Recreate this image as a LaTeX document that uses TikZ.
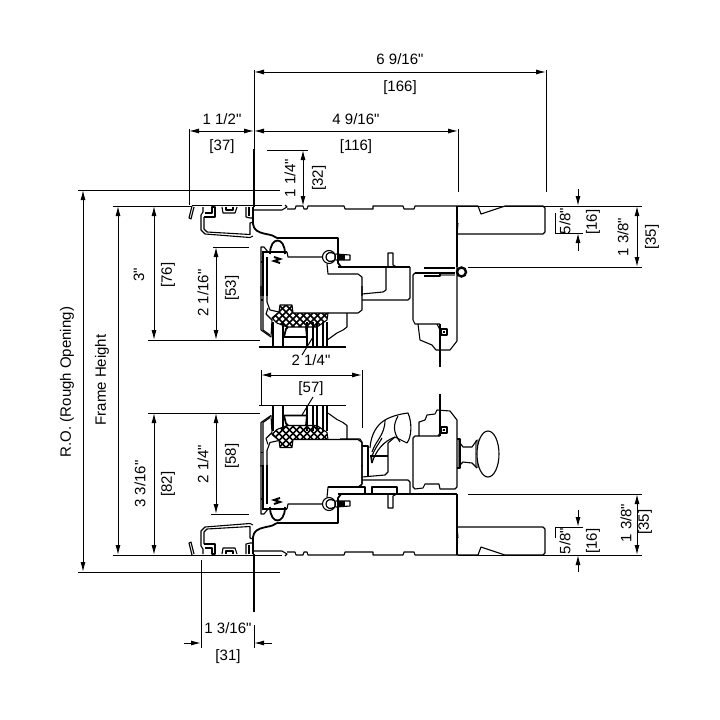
\documentclass[tikz,border=0pt]{standalone}
\usepackage{fontspec}
\newfontfamily\dimfont{Liberation Sans}
\usetikzlibrary{arrows.meta}
\definecolor{bandgray}{RGB}{120, 120, 120}
\tikzset{
  prof/.style={line width=1.1pt, line join=round},
  heavy/.style={line width=1.8pt, line join=round},
  dimline/.style={line width=1pt, {Latex[length=10pt,width=5pt]}-{Latex[length=10pt,width=5pt]}},
  dimhalf/.style={line width=1pt, -{Latex[length=10pt,width=5pt]}},
  extline/.style={line width=1pt},
  dimtext/.style={font=\dimfont\fontsize{15}{17}\selectfont, inner sep=0pt},
  vtext/.style={dimtext, rotate=90}
}
% frame, stop and lower door rail: drawn once, then mirrored for the sill
\newcommand{\framesection}{
  % plate and aluminium profile
  \draw[line width=2pt] (254,149) -- (254,207);
  \draw[heavy] (192,205.5) -- (282,205.5);
  \draw[prof] (192,206) -- (189,218) -- (191,219) -- (194,207);
  \draw[prof] (203,207) -- (203,212) -- (201,215) -- (201,230) -- (205,234) -- (250,237.5) -- (253,236);
  \draw[prof] (204,217) -- (204,229) -- (207,232) -- (250,234.5) -- (250,223) -- (253,222);
  \draw[prof] (205,213) -- (212,213) -- (212,207) -- (215,207) -- (215,217) -- (204,217);
  \draw[prof] (222,207) -- (223,213) -- (235,213) -- (237,207);
  \draw[prof] (226,207) -- (226,210) -- (233,210) -- (233,207);
  \draw[prof] (246,207) -- (246,217) -- (250,218) -- (253,218) -- (253,207);
  \draw[prof] (249,207) -- (249,216);
  \draw[prof] (254,210) -- (282,210) -- (287,207) -- (285,205);
  \draw[heavy] (253,207) -- (253,224) .. controls (254,230) and (257,232) .. (266,234) .. controls (272,235) and (274,236) .. (277,238);
  % jamb outline
  \draw[prof] (287,209) -- (295,209) -- (296,206) -- (303,206) -- (304,209) -- (307,209) -- (308,206) -- (344,206) -- (345,209) -- (373,209) -- (373,206) -- (403,206) -- (404,209) -- (414,209) -- (415,206) -- (478,206) -- (481,214) -- (505,206) -- (543,206) -- (545,208) -- (545,232) -- (543,234) -- (457,234);
  \draw[prof] (458,223) -- (457,234);
  \draw[prof] (457,206) -- (457,267);
  % stop
  \draw[heavy] (277,238) -- (338,238) -- (338,263) -- (341,267);
  \draw[prof] (338,267) -- (410,267);
  \draw[prof] (388,267) -- (388,253) -- (393,253) -- (393,265) -- (397,267);
  % weatherstrip and screws
  \draw[heavy] (270,254) .. controls (270,236) and (285,236) .. (285,254);
  \draw[heavy] (262,252) -- (287,252);
  \draw[prof] (287,252) -- (288,257) -- (322,257);
  \draw[line width=2pt] (274,257) -- (280,259) -- (274,261) -- (280,263);
  \draw[prof] (329,257) circle[radius=6.5pt];
  \draw[line width=1.2pt] (335,254) .. controls (330,251) and (326,253) .. (326,257) .. controls (326,261) and (330,263) .. (335,260) -- cycle;
  \draw[prof] (336,254) -- (350,255) -- (350,260) -- (336,260);
  \fill (338,254) rectangle (345,260);
  % door rail
  \draw[prof] (327,264) -- (328,274) -- (358,274) -- (362,277) -- (362,296);
  \draw[prof] (267,257) -- (267,296);
  % cladding
  \draw[prof] (261,296) -- (261,247) -- (264,247) -- (268,252);
  \draw[prof] (263,296) -- (263,252);
  \draw[prof] (261,262) -- (263,262);
}
% glass stops and gasket: drawn once, then mirrored for the lower leaf
\newcommand{\doorsection}{
  % gasket
  \begin{scope}
    \clip (280,305) -- (292,305) -- (293,313) -- (328,313) -- (327,320) -- (317,327) -- (287,327) -- (277,323) -- (272,318) -- (279,312) -- cycle;
    \foreach \d in {0,7,...,119} {
      \draw[line width=1.5pt] (260+\d,300) -- (300+\d,340);
      \draw[line width=1.5pt] (340-\d,300) -- (300-\d,340);
    }
  \end{scope}
  \draw[prof] (280,305) -- (292,305) -- (293,313) -- (328,313) -- (327,320) -- (317,327) -- (287,327) -- (277,323) -- (272,318) -- (279,312) -- cycle;
  % stops and glass
  \foreach \g in {273,283,307,313,317,323,327}
    \draw[prof] (\g,322) -- (\g,347);
  \draw[heavy] (284,337) -- (286,329) -- (288,327);
  \draw[heavy] (306,327) -- (307,337) -- (284,337);
  \draw[prof] (259,347) -- (346,347);
  \draw[prof] (347,313) -- (347,327) -- (343,330) -- (337,333) -- (330,338) -- (327,340);
  % slab and cladding
  \draw[prof] (328,313) -- (358,313) -- (362,310) -- (362,286);
  \draw[prof] (267,286) -- (267,302) -- (270,310) -- (279,312);
  \draw[prof] (261,286) -- (261,330) -- (271,337) -- (272,320);
  \draw[prof] (263,286) -- (263,330) -- (270,335);
  \draw[prof] (261,300) -- (263,300);
  \draw[prof] (272,320) -- (266,314) -- (268,308);
}

\begin{document}
\begin{tikzpicture}[x=1pt, y=-1pt]
  \useasboundingbox (0,0) rectangle (720,720);

  % Upper section
  \framesection
  \doorsection

  % Lower section
  \begin{scope}[shift={(0,761)}, yscale=-1]
    \framesection
  \end{scope}
  \begin{scope}[shift={(0,752.5)}, yscale=-1]
    \doorsection
  \end{scope}

  % Upper lock and hinge
  \draw[prof] (386,267) -- (386,290) -- (383,292) -- (362,294);
  \draw[prof] (410,267) -- (410,298) -- (408,300) -- (362,300);
  \draw[prof] (415,273) -- (413,275) -- (413,320) -- (415,324) -- (440,324);
  \draw[prof] (418,324) -- (420,340) -- (432,345) -- (436,350) -- (450,350) -- (457,341) -- (457,267);
  \draw[prof] (440,324) -- (440,367);
  \draw[prof] (437,324) -- (442,334);
  \draw[prof] (441,329) rectangle (447,335);
  \fill (443,331) rectangle (445,333);
  \fill[bandgray] (440,272.5) rectangle (455,276);
  \draw[prof] (424,268) -- (455,268);
  \draw[prof] (415,273) -- (455,273);
  \draw[prof] (424,276) -- (440,276) -- (440,273);
  \draw[line width=2.4pt, fill=white] (461.5,272) circle[radius=4.5pt];

  % Lower lock
  \draw[prof] (419,436) -- (419,422) -- (425,420) -- (427,415) -- (435,414) -- (437,410) -- (450,411) -- (457,420) -- (457,487) -- (455,489) -- (440,489) -- (439,484) -- (425,484) -- (423,488) -- (415,489) -- (413,487) -- (413,438) -- (415,436) -- (440,436);
  \draw[prof] (440,394) -- (440,436);
  \draw[prof] (438,436) -- (442,430);
  \draw[prof] (441,427) rectangle (447,433);
  \fill (443,429) rectangle (445,431);

  % Knob
  \fill[bandgray] (457.5,439) rectangle (460,468);
  \draw[prof] (457,439) -- (460,439) -- (460,468) -- (457,468);
  \fill[bandgray] (475,441) -- (478.5,439) -- (478.5,468) -- (475,467) -- cycle;
  \draw[prof] (460,443) -- (463,447) -- (472,447) -- (477,440);
  \draw[prof] (460,465) -- (463,462) -- (472,463) -- (477,468);
  \draw[prof, fill=white] (488,454) ellipse[x radius=11, y radius=23];

  % Lever
  \draw[prof] (362,446) -- (368,446) -- (368,477);
  \draw[prof] (362,477) -- (385,475) -- (388,472) -- (388,443) -- (395,437);
  \draw[prof] (370,448) .. controls (371,433) and (378,424) .. (385,420) .. controls (392,416) and (400,414) .. (408,413) .. controls (412,422) and (412,436) .. (407,443) -- (395,437);
  \draw[prof] (398,416) .. controls (393,425) and (393,432) .. (400,442);
  \draw[prof] (372,463) .. controls (376,450) and (384,441) .. (395,437);
  \draw[prof] (372,456) .. controls (375,448) and (380,442) .. (382,438);
  \draw[prof] (372,452) .. controls (376,440) and (385,435) .. (385,420);
  \draw[prof] (370,456) -- (388,456);
  \draw[line width=1.8pt] (371,455) -- (372,463);

  % Lower rail
  \draw[prof] (340,439) -- (360,439) -- (362,442) -- (362,484) -- (360,487);
  \draw[prof] (362,480) -- (408,480) -- (410,482) -- (410,494);
  \draw[prof] (328,487) -- (365,487) -- (365,494);
  \draw[prof] (372,494) -- (372,487) -- (397,487) -- (397,495);
  \draw[prof] (410,494) -- (457,494);

  % Dimension lines, top
  \draw[dimline] (254,72) -- (546,72);
  \draw[extline] (254,70) -- (254,149);
  \draw[extline] (546,70) -- (546,192);
  \draw[dimline] (189,131) -- (254,131);
  \draw[dimline] (254,131) -- (458,131);
  \draw[extline] (189,129) -- (189,205);
  \draw[extline] (458,129) -- (458,192);
  \draw[dimline] (303,150) -- (303,206);
  \draw[extline] (267,150) -- (308,150);

  % Dimension lines, left
  \draw[extline] (78,190) -- (280,190);
  \draw[extline] (113,206) -- (192,206);
  \draw[dimline] (83,190) -- (83,572);
  \draw[dimline] (118,206) -- (118,555);
  \draw[dimline] (154,206) -- (154,340);
  \draw[extline] (148,340) -- (260,340);
  \draw[dimline] (216,247) -- (216,340);
  \draw[extline] (213,247) -- (249,247);
  \draw[extline] (148,413) -- (260,413);
  \draw[dimline] (154,413) -- (154,555);
  \draw[dimline] (216,413) -- (216,514);
  \draw[extline] (211,514) -- (249,514);
  \draw[extline] (113,555) -- (201,555);
  \draw[extline] (78,572) -- (280,572);

  % Dimension lines, bottom
  \draw[extline] (201,560) -- (201,648);
  \draw[extline] (254,625) -- (254,648);
  \draw[dimhalf] (184,643) -- (201,643);
  \draw[dimhalf] (272,643) -- (254,643);

  % Dimension lines, middle
  \draw[dimline] (261,375) -- (362,375);
  \draw[extline] (261,370) -- (261,405);
  \draw[extline] (362,370) -- (362,428);
  \draw[extline] (313,337) -- (302,355);
  \draw[extline] (313,397) -- (302,415);

  % Dimension lines, right
  \draw[extline] (458,206) -- (642,206);
  \draw[extline] (468,267) -- (642,267);
  \draw[dimline] (637,206) -- (637,267);
  \draw[extline] (555,233) -- (583,233);
  \draw[extline] (555,213) -- (555,233);
  \draw[dimhalf] (578,189) -- (578,206);
  \draw[dimhalf] (578,251) -- (578,233);
  \draw[extline] (468,494) -- (642,494);
  \draw[extline] (458,555) -- (642,555);
  \draw[dimline] (637,494) -- (637,555);
  \draw[extline] (555,527) -- (583,527);
  \draw[extline] (555,527) -- (555,538);
  \draw[dimhalf] (578,510) -- (578,527);
  \draw[dimhalf] (578,572) -- (578,555);

  % Labels
  \node[dimtext] (lbl-overall) at (400,59) {6 9/16"};
  \node[dimtext] (lbl-overallmm) at (400,88) {[166]};
  \node[dimtext] (lbl-plate) at (222,119) {1 1/2"};
  \node[dimtext] (lbl-platemm) at (222,147) {[37]};
  \node[dimtext] (lbl-jamb) at (356,119) {4 9/16"};
  \node[dimtext] (lbl-jambmm) at (356,147) {[116]};
  \node[vtext] (lbl-flange) at (290,178) {1 1/4"};
  \node[vtext] (lbl-flangemm) at (319,178) {[32]};
  \node[vtext] (lbl-ro) at (67,382) {R.O. (Rough Opening)};
  \node[vtext] (lbl-frame) at (102,380) {Frame Height};
  \node[vtext] (lbl-head) at (139,275) {3"};
  \node[vtext] (lbl-headmm) at (168,275) {[76]};
  \node[vtext] (lbl-headrail) at (203,293) {2 1/16"};
  \node[vtext] (lbl-headrailmm) at (232,288) {[53]};
  \node[vtext] (lbl-sill) at (140,484) {3 3/16"};
  \node[vtext] (lbl-sillmm) at (168,484) {[82]};
  \node[vtext] (lbl-sillrail) at (203,464) {2 1/4"};
  \node[vtext] (lbl-sillrailmm) at (232,456) {[58]};
  \node[dimtext] (lbl-glass) at (311,360) {2 1/4"};
  \node[dimtext] (lbl-glassmm) at (311,389) {[57]};
  \node[dimtext] (lbl-offset) at (228,628) {1 3/16"};
  \node[dimtext] (lbl-offsetmm) at (228,657) {[31]};
  \node[vtext] (lbl-topeighths) at (565,221) {5/8"};
  \node[vtext] (lbl-topeighthsmm) at (593,222) {[16]};
  \node[vtext] (lbl-toprabbet) at (623,237) {1 3/8"};
  \node[vtext] (lbl-toprabbetmm) at (652,237) {[35]};
  \node[vtext] (lbl-boteighths) at (565,541) {5/8"};
  \node[vtext] (lbl-boteighthsmm) at (593,541) {[16]};
  \node[vtext] (lbl-botrabbet) at (626,523) {1 3/8"};
  \node[vtext] (lbl-botrabbetmm) at (645,522) {[35]};
\end{tikzpicture}
\end{document}
